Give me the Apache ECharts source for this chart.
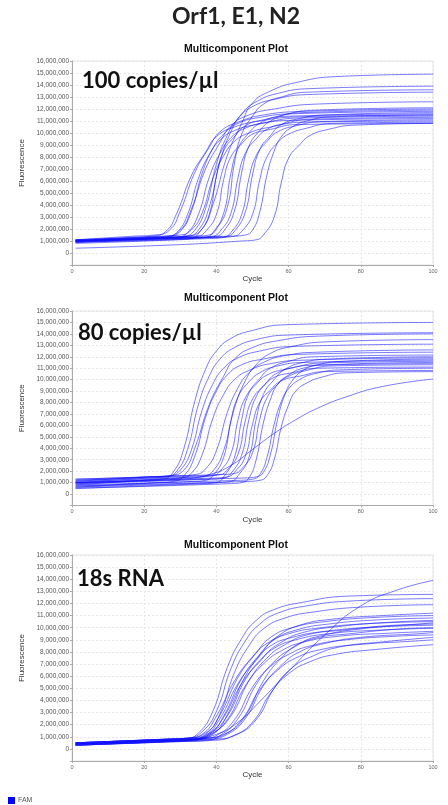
<!DOCTYPE html>
<html><head><meta charset="utf-8">
<script src="https://cdn.jsdelivr.net/npm/echarts@6/dist/echarts.min.js"></script>
<style>html,body{margin:0;padding:0;background:#fff}#c{width:448px;height:805px}</style>
</head><body><div id="c"></div>
<script>
const mainTitle = 'Orf1, E1, N2';
const plotTitle = 'Multicomponent Plot';
const panelLabels = ['100 copies/µl', '80 copies/µl', '18s RNA'];
const legendName = 'FAM';
const xName = 'Cycle';
const yName = 'Fluorescence';

// [cycle, fluorescence in millions]
const p1 = [
[[1,1.0],[16,1.3],[22,1.4],[26,1.8],[29,3.3],[33,6.4],[37,8.4],[40,9.7],[45,10.5],[52,11.0],[63,11.35],[100,11.5]],
[[1,1.1],[17,1.4],[23,1.5],[27,1.9],[30,3.5],[34,6.7],[38,8.8],[41,10.1],[46,10.9],[53,11.5],[64,11.8],[100,12.0]],
[[1,0.9],[21,1.2],[26,1.3],[29,1.7],[32,3.2],[35,6.2],[38,8.2],[41,9.4],[45,10.2],[51,10.7],[60,11.05],[100,11.2]],
[[1,1.0],[22,1.3],[27,1.4],[30,1.8],[33,3.4],[36,6.6],[39,8.7],[42,9.9],[46,10.8],[52,11.3],[61,11.6],[100,11.8]],
[[1,1.0],[20,1.3],[26,1.4],[30,1.9],[33,3.6],[37,7.0],[41,9.2],[44,10.6],[49,11.5],[56,12.0],[67,12.4],[100,12.6]],
[[1,0.9],[24,1.2],[29,1.3],[32,1.7],[35,3.2],[38,6.3],[41,8.3],[44,9.6],[48,10.4],[54,10.9],[63,11.25],[100,11.4]],
[[1,1.1],[25,1.4],[30,1.5],[33,1.9],[36,3.3],[39,6.2],[42,8.1],[45,9.3],[49,10.0],[55,10.5],[64,10.9],[100,11.0]],
[[1,1.0],[26,1.3],[31,1.4],[34,1.9],[37,3.7],[40,7.4],[43,9.8],[46,11.2],[50,12.2],[56,12.8],[65,13.2],[100,13.4]],
[[1,0.8],[29,1.1],[33,1.2],[35,1.6],[38,3.2],[40,6.4],[42,8.5],[45,9.7],[48,10.6],[53,11.1],[60,11.4],[100,11.6]],
[[1,1.0],[27,1.3],[32,1.4],[35,1.9],[38,3.8],[41,7.6],[44,10.1],[47,11.6],[51,12.6],[57,13.3],[66,13.7],[100,13.9]],
[[1,1.0],[31,1.3],[35,1.4],[37,1.8],[40,3.2],[42,6.1],[44,8.0],[47,9.1],[50,9.9],[55,10.3],[62,10.7],[100,10.8]],
[[1,1.0],[26,1.3],[32,1.4],[36,2.0],[39,4.0],[43,8.1],[47,10.8],[50,12.5],[55,13.5],[62,14.2],[73,14.7],[100,14.9]],
[[1,0.9],[33,1.2],[37,1.3],[39,1.7],[42,3.3],[44,6.6],[46,8.7],[49,10.0],[52,10.8],[57,11.4],[64,11.7],[100,11.9]],
[[1,1.1],[34,1.4],[38,1.5],[40,2.0],[43,3.8],[45,7.5],[47,9.9],[50,11.4],[53,12.4],[58,13.0],[65,13.4],[100,13.6]],
[[1,1.0],[35,1.3],[39,1.4],[41,1.8],[44,3.3],[46,6.3],[48,8.3],[51,9.5],[54,10.3],[59,10.8],[66,11.15],[100,11.3]],
[[1,1.0],[36,1.3],[40,1.4],[42,1.8],[45,3.5],[47,6.7],[49,8.9],[52,10.2],[55,11.0],[60,11.6],[67,11.9],[100,12.1]],
[[1,0.9],[38,1.2],[42,1.3],[44,1.7],[47,3.2],[49,6.2],[51,8.1],[54,9.3],[57,10.1],[62,10.6],[69,10.95],[100,11.1]],
[[1,1.0],[39,1.3],[43,1.4],[45,1.8],[48,3.4],[50,6.5],[52,8.6],[55,9.8],[58,10.7],[63,11.2],[70,11.5],[100,11.7]],
[[1,1.0],[41,1.3],[45,1.4],[47,1.8],[50,3.2],[52,6.1],[54,8.0],[57,9.2],[60,9.9],[65,10.4],[72,10.8],[100,10.9]],
[[1,1.1],[44,1.4],[48,1.5],[50,1.9],[52,3.4],[54,6.5],[56,8.5],[58,9.7],[61,10.5],[65,11.0],[72,11.35],[100,11.5]],
[[1,0.4],[30,0.7],[47,1.0],[51,1.1],[53,1.5],[56,3.0],[58,5.9],[60,7.9],[63,9.0],[66,9.8],[71,10.3],[78,10.65],[100,10.8]]
];
const p2 = [
[[1,0.8],[20,1.2],[25,1.3],[28,1.9],[31,4.0],[34,8.1],[37,10.9],[40,12.5],[44,13.6],[50,14.3],[59,14.8],[100,15.0]],
[[1,1.0],[21,1.4],[26,1.5],[29,2.0],[32,3.9],[35,7.8],[38,10.3],[41,11.8],[45,12.8],[51,13.5],[60,13.9],[100,14.1]],
[[1,1.2],[22,1.5],[27,1.6],[30,2.1],[33,3.8],[36,7.3],[39,9.6],[42,11.0],[46,11.9],[52,12.5],[61,12.9],[100,13.1]],
[[1,0.6],[23,1.0],[28,1.1],[31,1.6],[34,3.3],[37,6.7],[40,9.0],[43,10.4],[47,11.3],[53,11.8],[62,12.2],[100,12.4]],
[[1,1.1],[21,1.5],[27,1.6],[31,2.1],[34,4.0],[38,7.8],[42,10.3],[45,11.8],[50,12.8],[57,13.4],[68,13.8],[100,14.0]],
[[1,0.9],[25,1.3],[30,1.4],[33,1.8],[36,3.4],[39,6.6],[42,8.7],[45,10.0],[49,10.8],[55,11.4],[64,11.7],[100,11.9]],
[[1,1.3],[29,1.6],[34,1.7],[37,2.2],[40,3.8],[43,7.1],[46,9.3],[49,10.6],[53,11.5],[59,12.1],[68,12.4],[100,12.6]],
[[1,0.7],[33,1.1],[37,1.2],[39,1.6],[42,3.2],[44,6.4],[46,8.5],[49,9.8],[52,10.6],[57,11.2],[64,11.5],[100,11.7]],
[[1,1.0],[31,1.4],[36,1.5],[39,2.0],[42,3.8],[45,7.5],[48,9.9],[51,11.3],[55,12.3],[61,12.9],[70,13.3],[100,13.5]],
[[1,1.1],[35,1.5],[39,1.6],[41,2.0],[44,3.5],[46,6.5],[48,8.4],[51,9.6],[54,10.4],[59,10.9],[66,11.25],[100,11.4]],
[[1,0.5],[36,0.9],[40,1.0],[42,1.5],[45,3.2],[47,6.5],[49,8.8],[52,10.1],[55,11.0],[60,11.6],[67,12.0],[100,12.15]],
[[1,1.2],[37,1.6],[41,1.7],[43,2.1],[46,3.5],[48,6.4],[50,8.3],[53,9.4],[56,10.2],[61,10.6],[68,11.0],[100,11.1]],
[[1,0.9],[38,1.3],[42,1.4],[44,1.8],[47,3.4],[49,6.5],[51,8.5],[54,9.8],[57,10.6],[62,11.1],[69,11.45],[100,11.6]],
[[1,1.0],[39,1.4],[43,1.5],[45,1.9],[48,3.3],[50,6.1],[52,8.0],[55,9.1],[58,9.9],[63,10.3],[70,10.7],[100,10.8]],
[[1,0.6],[40,1.0],[44,1.1],[46,1.6],[49,3.2],[51,6.5],[53,8.7],[56,10.0],[59,10.9],[64,11.5],[71,11.8],[100,12.0]],
[[1,1.3],[41,1.7],[45,1.8],[47,2.2],[50,3.6],[52,6.5],[54,8.4],[57,9.6],[60,10.3],[65,10.8],[72,11.2],[100,11.3]],
[[1,0.8],[46,1.2],[50,1.3],[52,1.7],[54,3.2],[56,6.1],[58,8.1],[60,9.2],[63,10.0],[67,10.5],[74,10.85],[100,11.0]],
[[1,1.0],[47,1.4],[51,1.5],[53,1.9],[55,3.5],[57,6.6],[59,8.7],[61,9.9],[64,10.8],[68,11.3],[75,11.6],[100,11.8]],
[[1,0.7],[48,1.1],[52,1.2],[54,1.6],[56,3.0],[58,5.9],[60,7.8],[62,9.0],[65,9.7],[69,10.2],[76,10.6],[100,10.7]],
[[1,1.0],[30,1.3],[38,1.7],[44,2.5],[50,3.9],[56,5.3],[62,6.5],[68,7.5],[76,8.5],[86,9.4],[100,10.05]],
[[1,0.5],[43,0.9],[47,1.0],[49,1.4],[51,3.0],[53,6.2],[55,8.3],[57,9.6],[60,10.4],[64,11.0],[71,11.3],[100,11.5]]
];
const p3 = [
[[1,0.4],[25,0.7],[31,0.8],[35,1.3],[39,3.1],[43,6.7],[47,9.1],[51,10.6],[56,11.5],[64,12.1],[76,12.6],[100,12.75]],
[[1,0.5],[26,0.8],[32,0.9],[36,1.4],[40,3.1],[44,6.6],[48,8.9],[52,10.3],[57,11.2],[65,11.8],[77,12.2],[100,12.4]],
[[1,0.3],[25,0.6],[32,0.7],[37,1.2],[41,2.9],[45,6.3],[49,8.5],[53,9.9],[59,10.8],[67,11.3],[80,11.7],[100,11.9]],
[[1,0.4],[24,0.7],[31,0.8],[36,1.2],[40,2.7],[45,5.6],[50,7.6],[54,8.7],[60,9.5],[69,10.0],[83,10.35],[100,10.5]],
[[1,0.5],[25,0.8],[32,0.9],[37,1.3],[41,2.8],[46,5.9],[51,7.9],[55,9.2],[61,10.0],[70,10.5],[84,10.85],[100,11.0]],
[[1,0.3],[25,0.6],[32,0.7],[37,1.1],[41,2.5],[46,5.4],[51,7.3],[55,8.5],[61,9.2],[70,9.7],[84,10.05],[100,10.2]],
[[1,0.4],[26,0.7],[33,0.8],[38,1.2],[42,2.7],[47,5.8],[52,7.8],[56,9.0],[62,9.8],[71,10.3],[85,10.65],[100,10.8]],
[[1,0.5],[26,0.8],[33,0.9],[38,1.3],[42,2.6],[47,5.4],[52,7.2],[56,8.3],[62,9.0],[71,9.5],[85,9.8],[100,9.95]],
[[1,0.4],[26,0.7],[34,0.8],[38,1.2],[43,2.7],[48,5.7],[53,7.6],[58,8.8],[64,9.6],[74,10.1],[88,10.45],[100,10.6]],
[[1,0.3],[26,0.6],[34,0.7],[38,1.1],[43,2.4],[48,5.2],[53,7.0],[58,8.1],[64,8.8],[74,9.3],[88,9.55],[100,9.7]],
[[1,0.5],[27,0.8],[35,0.9],[39,1.3],[44,2.7],[49,5.6],[54,7.5],[59,8.6],[65,9.4],[75,9.8],[89,10.2],[100,10.3]],
[[1,0.4],[28,0.7],[36,0.8],[40,1.1],[45,2.4],[50,5.1],[55,6.8],[60,7.8],[66,8.5],[76,9.0],[90,9.3],[100,9.4]],
[[1,0.3],[29,0.6],[37,0.7],[41,1.1],[46,2.5],[51,5.3],[56,7.2],[61,8.3],[67,9.1],[77,9.5],[91,9.9],[100,10.0]],
[[1,0.5],[28,0.8],[37,0.9],[42,1.2],[47,2.4],[52,4.9],[57,6.5],[62,7.5],[69,8.2],[79,8.6],[95,8.9],[100,9.0]],
[[1,0.4],[29,0.7],[38,0.8],[43,1.2],[48,2.5],[53,5.2],[58,6.9],[63,8.0],[70,8.7],[80,9.2],[96,9.5],[100,9.6]],
[[1,0.3],[30,0.6],[39,0.7],[44,1.0],[50,2.2],[55,4.6],[60,6.2],[66,7.2],[73,7.8],[84,8.2],[100,8.6]],
[[1,0.4],[31,0.7],[40,0.8],[45,1.1],[51,2.4],[56,5.0],[61,6.7],[67,7.7],[74,8.4],[85,8.8],[100,9.2]],
[[1,0.4],[32,0.7],[40,1.2],[46,2.2],[52,3.9],[60,6.4],[70,9.4],[80,11.8],[90,13.1],[100,13.9]],
[[1,0.5],[29,0.8],[38,0.9],[43,1.3],[48,2.7],[53,5.6],[58,7.5],[63,8.7],[70,9.4],[80,9.9],[96,10.3],[100,10.4]],
[[1,0.4],[27,0.7],[34,0.8],[39,1.2],[43,2.8],[48,6.0],[53,8.1],[57,9.3],[63,10.2],[72,10.7],[86,11.0],[100,11.2]]
];
const panels = [p1, p2, p3];

// layout
const gridBoxes = [{top:61,height:204},{top:311,height:194.5},{top:555,height:206}];
const titleY = [49, 298, 545];
const labelPos = [[82,81],[78,333],[77,579]];

const chart = echarts.init(document.getElementById('c'), null, {renderer:'canvas'});
const grids = [], xAxes = [], yAxes = [], series = [], graphics = [];
gridBoxes.forEach((g, i) => {
  grids.push({left:72, width:361, top:g.top, height:g.height, show:true, borderColor:'#e2e2e2', borderWidth:1});
  xAxes.push({
    gridIndex:i, type:'value', min:0, max:100, interval:20,
    name:xName, nameLocation:'middle', nameGap:10,
    nameTextStyle:{fontSize:8, color:'#333', fontFamily:'Liberation Sans'},
    axisLine:{show:true, onZero:false, lineStyle:{color:'#aaa'}},
    axisTick:{show:true, length:2, lineStyle:{color:'#aaa'}},
    axisLabel:{fontSize:5.5, color:'#666', margin:3, fontFamily:'Liberation Sans'},
    splitLine:{show:true, lineStyle:{color:'#e6e6e6', type:[2,2]}}
  });
  yAxes.push({
    gridIndex:i, type:'value', min:-1, max:16, interval:1,
    name:yName, nameLocation:'middle', nameGap:40, nameRotate:90,
    nameTextStyle:{fontSize:8, color:'#333', fontFamily:'Liberation Sans'},
    axisLine:{show:true, lineStyle:{color:'#aaa'}},
    axisTick:{show:true, length:2, lineStyle:{color:'#aaa'}},
    axisLabel:{fontSize:6.5, color:'#555', margin:3, fontFamily:'Liberation Sans',
      formatter: v => v < 0 ? '' : (Math.round(v*1e6)).toLocaleString('en-US')},
    splitLine:{show:true, lineStyle:{color:'#e6e6e6', type:[2,2]}}
  });
  panels[i].forEach(curve => {
    series.push({
      name:legendName, type:'line', xAxisIndex:i, yAxisIndex:i, data:curve,
      showSymbol:false, symbol:'none', smooth:0.5,
      lineStyle:{color:'#1010ff', width:0.9, opacity:0.62}, itemStyle:{color:'#0000ff'},
      silent:true, z:3
    });
  });
  graphics.push({type:'text', x:236, y:titleY[i], style:{text:plotTitle, fill:'#111', font:'bold 10.5px "Liberation Sans", Arial', textAlign:'center', textVerticalAlign:'middle'}});
  graphics.push({type:'text', x:labelPos[i][0], y:labelPos[i][1], z:10, style:{text:panelLabels[i], fill:'#111', font:'bold 22px Lato, "Open Sans", sans-serif', textAlign:'left', textVerticalAlign:'middle'}});
});
graphics.push({type:'text', x:236, y:17, style:{text:mainTitle, fill:'#222', font:'bold 23px Lato, "Open Sans", sans-serif', textAlign:'center', textVerticalAlign:'middle'}});

chart.setOption({
  animation:false,
  backgroundColor:'#fff',
  grid:grids, xAxis:xAxes, yAxis:yAxes, series:series,
  legend:{data:[{name:legendName, icon:'rect'}], left:3, top:792, itemWidth:7, itemHeight:7, itemGap:4,
    textStyle:{fontSize:7, color:'#555', fontFamily:'Liberation Sans', padding:[0,0,0,-2]}},
  graphic:graphics
});
</script></body></html>
